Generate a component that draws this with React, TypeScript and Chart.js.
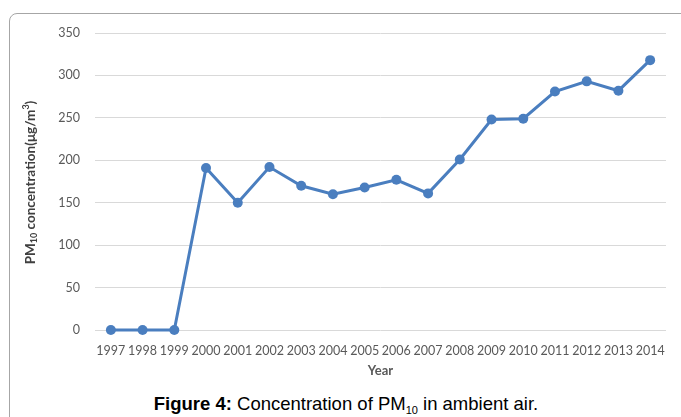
import React, { useEffect, useRef } from "react";
import { Chart, registerables } from "chart.js";

Chart.register(...registerables);

const years = ["1997","1998","1999","2000","2001","2002","2003","2004","2005","2006","2007","2008","2009","2010","2011","2012","2013","2014"];
const pm10 = [0, 0, 0, 191, 150, 192, 170, 160, 168, 177, 161, 201, 248, 249, 281, 293, 282, 318];
const yTicks = [0, 50, 100, 150, 200, 250, 300, 350];

const yTitlePlugin = {
  id: "yTitleSubSup",
  afterDraw(chart: any) {
    const ctx = chart.ctx;
    const area = chart.chartArea;
    const cy = (area.top + area.bottom) / 2 + 1;
    const cx = 31;
    ctx.save();
    ctx.translate(cx, cy);
    ctx.rotate(-Math.PI / 2);
    ctx.fillStyle = "#404040";
    ctx.textBaseline = "middle";
    const big = "bold 13.5px Lato";
    const small = "bold 9px Lato";
    const parts: [string, string, number][] = [
      ["PM", big, 0],
      ["10", small, 3.5],
      [" concentration(\u03bcg/m", big, 0],
      ["3", small, -5],
      [")", big, 0],
    ];
    let total = 0;
    for (const [t, f] of parts) { ctx.font = f; total += ctx.measureText(t).width; }
    let x = -total / 2;
    ctx.textAlign = "left";
    for (const [t, f, dy] of parts) {
      ctx.font = f;
      ctx.fillText(t, x, dy);
      x += ctx.measureText(t).width;
    }
    ctx.restore();
  },
};

export default function App() {
  const ref = useRef<HTMLCanvasElement>(null);
  useEffect(() => {
    if (!ref.current) return;
    const chart = new Chart(ref.current, {
      type: "line",
      data: {
        labels: years,
        datasets: [{
          data: pm10,
          borderColor: "#4A7EBF",
          backgroundColor: "#4A7EBF",
          borderWidth: 3,
          pointRadius: 5,
          pointBorderWidth: 0,
          tension: 0,
          clip: false,
        }],
      },
      options: {
        animation: false,
        responsive: false,
        maintainAspectRatio: false,
        layout: { padding: { top: 33, right: 15, left: 0, bottom: 0 } },
        plugins: { legend: { display: false }, tooltip: { enabled: false }, title: { display: false } },
        scales: {
          x: {
            offset: true,
            grid: { display: false },
            border: { display: false },
            ticks: { color: "#595959", font: { family: "Lato", size: 12.5 }, padding: 5, maxRotation: 0, autoSkip: false },
            title: { display: true, text: "Year", color: "#595959", font: { family: "Lato", size: 13, weight: "bold" }, padding: { top: 4, bottom: 6 } },
            afterFit(s: any) { s.height = 55; },
          },
          y: {
            min: 0,
            max: 350,
            afterBuildTicks(s: any) { s.ticks = yTicks.map((v) => ({ value: v })); },
            grid: { color: "#D9D9D9", drawTicks: false, lineWidth: 1 },
            border: { display: false },
            ticks: { color: "#595959", font: { family: "Lato", size: 12.5 }, padding: 15 },
            afterFit(s: any) { s.width = 95; },
          },
        },
      },
      plugins: [yTitlePlugin],
    });
    return () => chart.destroy();
  }, []);
  return (
    <div style={{ position: "fixed", left: 0, top: 0, width: 681, height: 417, overflow: "hidden", background: "#fff" }}>
      <div style={{ position: "absolute", left: 9, top: 13, width: 700, height: 430, border: "1px solid #A6A6A6", borderRadius: 8, boxSizing: "border-box" }} />
      <canvas ref={ref} width={681} height={385} style={{ position: "absolute", left: 0, top: 0, width: 681, height: 385 }} />
      <div style={{ position: "absolute", left: 0, width: 692, top: 394, textAlign: "center", fontFamily: "'Liberation Sans', Arial, sans-serif", fontSize: 18.5, color: "#000", lineHeight: "20px" }}>
        <b>Figure 4:</b> Concentration of PM<sub style={{ fontSize: 11, verticalAlign: "-4px", lineHeight: 0 }}>10</sub> in ambient air.
      </div>
    </div>
  );
}
